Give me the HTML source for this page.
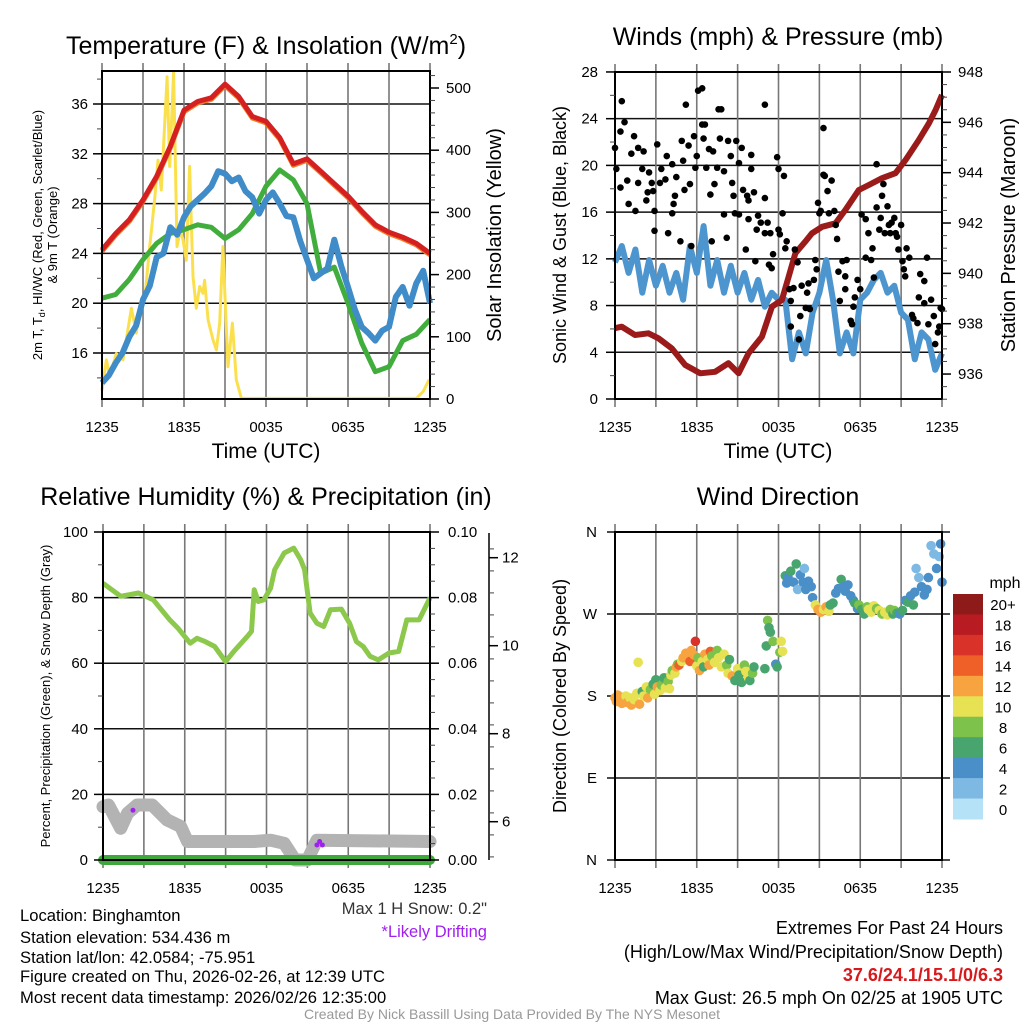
<!DOCTYPE html>
<html><head><meta charset="utf-8"><title>Mesonet Meteogram</title>
<style>
html,body{margin:0;padding:0;background:#fff;}
svg{display:block;font-family:"Liberation Sans",Arial,sans-serif;}
</style></head>
<body>
<svg id="chart" width="1024" height="1024" viewBox="0 0 1024 1024" xmlns="http://www.w3.org/2000/svg">
<rect x="0" y="0" width="1024" height="1024" fill="#fff"/>
<!-- titles -->
<text x="266" y="54" font-size="25" text-anchor="middle">Temperature (F) &amp; Insolation (W/m<tspan font-size="15" dy="-10">2</tspan><tspan dy="10">)</tspan></text>
<text x="778" y="45" font-size="25" text-anchor="middle">Winds (mph) &amp; Pressure (mb)</text>
<text x="266" y="505" font-size="25" text-anchor="middle">Relative Humidity (%) &amp; Precipitation (in)</text>
<text x="778" y="505" font-size="25" text-anchor="middle">Wind Direction</text>
<!-- axis titles -->
<text x="266" y="458" font-size="21" text-anchor="middle">Time (UTC)</text>
<text x="778" y="458" font-size="21" text-anchor="middle">Time (UTC)</text>
<g transform="translate(42,235) rotate(-90)">
<text x="0" y="0" font-size="13" text-anchor="middle">2m T, T<tspan font-size="9" dy="3">d</tspan><tspan dy="-3">, HI/WC (Red, Green, Scarlet/Blue)</tspan></text>
<text x="0" y="15" font-size="13" text-anchor="middle">&amp; 9m T (Orange)</text>
</g>
<text transform="translate(501,235) rotate(-90)" font-size="20" text-anchor="middle">Solar Insolation (Yellow)</text>
<text transform="translate(566,235) rotate(-90)" font-size="18" text-anchor="middle">Sonic Wind &amp; Gust (Blue, Black)</text>
<text transform="translate(1015,235) rotate(-90)" font-size="20" text-anchor="middle">Station Pressure (Maroon)</text>
<text transform="translate(50,696) rotate(-90)" font-size="13" text-anchor="middle">Percent, Precipitation (Green), &amp; Snow Depth (Gray)</text>
<text transform="translate(566,696) rotate(-90)" font-size="18" text-anchor="middle">Direction (Colored By Speed)</text>
<text x="1005" y="588" font-size="16" text-anchor="middle">mph</text>
<!-- footer text -->
<g font-size="16.6">
<text x="20" y="921">Location: Binghamton</text>
<text x="20" y="943">Station elevation: 534.436 m</text>
<text x="20" y="963">Station lat/lon: 42.0584; -75.951</text>
<text x="20" y="982">Figure created on Thu, 2026-02-26, at 12:39 UTC</text>
<text x="20" y="1003">Most recent data timestamp: 2026/02/26 12:35:00</text>
</g>
<text x="487" y="914" font-size="16.5" fill="#333" text-anchor="end">Max 1 H Snow: 0.2"</text>
<text x="487" y="937" font-size="16.5" fill="#a020f0" text-anchor="end">*Likely Drifting</text>
<g font-size="18" text-anchor="end">
<text x="1003" y="934">Extremes For Past 24 Hours</text>
<text x="1003" y="958">(High/Low/Max Wind/Precipitation/Snow Depth)</text>
<text x="1003" y="981" fill="#d7191c" font-weight="bold">37.6/24.1/15.1/0/6.3</text>
<text x="1003" y="1004">Max Gust: 26.5 mph On 02/25 at 1905 UTC</text>
</g>
<text x="512" y="1019" font-size="14" fill="#999" text-anchor="middle">Created By Nick Bassill Using Data Provided By The NYS Mesonet</text>
</svg>
<script>
// ---------- data ----------
const xTickLabels = ["1235","1835","0035","0635","1235"];
const redHours = [0,1,2,3,4,5,6,7,8,9,10,11,12,13,14,15,16,17,18,19,20,21,22,23,24];
const redTemp = [24.3,25.6,26.7,28.3,30.2,32.6,35.5,36.2,36.5,37.6,36.6,35.0,34.6,33.3,31.2,31.6,30.6,29.6,28.6,27.4,26.3,25.7,25.3,24.8,24.0];
const greenTemp = [20.4,20.7,21.9,23.5,24.8,25.6,25.9,26.3,26.1,25.2,25.9,27.2,29.4,30.7,29.9,28.0,22.4,22.9,20.0,16.8,14.5,14.9,17.0,17.5,18.7];
const blueTemp = [13.6,14.2,15.2,16.0,17.3,18.2,20.3,21.4,23.7,24.0,26.1,25.5,26.9,27.8,28.3,28.8,29.4,30.6,30.4,29.8,30.1,29.0,28.5,27.2,28.3,28.9,28.0,27.0,26.9,25.0,23.5,22.0,22.4,22.8,25.1,23.0,21.3,19.5,18.1,17.6,17.0,17.8,18.1,20.5,21.3,19.8,21.6,22.6,20.0];
const solarHours = [0,0.32,0.56,1.05,1.54,2.15,2.51,2.76,3.12,3.49,3.85,4.1,4.34,4.76,4.95,5.24,5.49,5.73,5.93,6.17,6.41,6.66,6.9,7.15,7.39,7.51,7.76,8.12,8.37,8.61,8.85,9.22,9.54,9.83,10.2,23,23.5,23.93];
const solarVals = [14,63,36,73,63,146,106,148,159,245,320,384,336,518,374,526,245,272,256,223,374,197,146,181,170,191,127,95,79,122,245,52,122,31,1,1,12,31];
const tempTicks = [16,20,24,28,32,36];
const solarTicks = [0,100,200,300,400,500];

const windHalfHours = [11.7,13.1,10.8,12.8,9.1,11.9,9.7,11.4,9.1,10.8,8.5,13.1,10.8,14.8,9.7,11.9,9.1,11.4,9.1,10.8,8.5,10.2,7.9,9.1,8.5,8.5,3.4,5.7,3.9,7.4,9.1,11.9,8.5,3.9,5.7,3.9,8.5,9.1,10.2,10.8,9.1,9.7,7.4,6.8,3.4,5.7,5.1,2.5,3.9];
const presHours = [0,0.49,1.47,2.45,3.19,4.17,5.15,6.25,7.35,8.33,9.07,9.8,10.78,11.52,12.25,12.75,13.24,13.97,14.46,15.2,16.18,16.91,17.89,18.63,19.6,20.59,21.32,22.3,23.04,23.53,24];
const presVals = [937.82,937.88,937.55,937.62,937.42,937.02,936.36,936.03,936.09,936.43,936.03,936.82,937.48,938.68,938.94,939.87,940.80,941.26,941.59,941.85,941.99,942.52,943.31,943.51,943.78,943.98,944.50,945.30,945.96,946.49,947.09];
const gustHours = [0,0.1,0.4,0.4,0.5,0.7,0.9,1.0,1.2,1.4,1.5,1.7,1.7,2.0,2.1,2.3,2.4,2.5,2.7,2.8,2.9,2.9,3.1,3.3,3.4,3.7,3.8,3.9,4.2,4.2,4.3,4.4,4.5,4.8,4.9,5.0,5.1,5.2,5.4,5.5,5.6,5.8,5.9,6.0,6.1,6.4,6.4,6.5,6.6,6.7,6.9,7.0,7.1,7.2,7.3,7.5,7.6,7.7,7.8,8.0,8.0,8.2,8.3,8.5,8.6,8.7,8.8,8.9,9.1,9.1,9.3,9.4,9.6,9.7,9.8,9.8,10.0,10.0,10.2,10.3,10.4,10.5,10.7,11.0,11.0,11.0,11.2,11.3,11.4,11.5,11.6,11.9,12.0,12.0,12.1,12.3,12.4,12.5,12.6,12.8,12.9,12.9,13.1,13.2,13.4,13.5,13.6,13.7,14.0,14.1,14.2,14.3,14.6,14.7,14.8,14.9,15.0,15.1,15.3,15.3,15.4,15.6,15.7,15.9,16.1,16.2,16.3,16.4,16.5,16.7,16.9,16.9,17.0,17.3,17.4,17.5,17.6,17.8,18.0,18.1,18.4,18.4,18.6,18.8,18.9,19.0,19.2,19.2,19.4,19.5,19.6,19.7,19.8,20.0,20.1,20.2,20.3,20.5,20.6,20.7,20.8,21.0,21.1,21.2,21.3,21.4,21.6,21.8,21.9,22.2,22.3,22.4,22.7,22.7,22.9,23.0,23.2,23.4,23.5,23.7,23.8,23.9,24.0];
const gustVals = [21.5,19.7,18.1,22.9,25.5,23.7,18.7,16.7,21.0,22.5,16.1,21.5,18.5,19.7,21.2,17.0,17.7,19.4,18.5,17.8,16.1,14.4,21.8,18.5,19.7,18.8,20.8,14.2,20.1,15.9,16.7,17.4,19.0,13.5,22.1,20.4,17.9,25.2,21.7,18.4,13.1,22.5,19.8,20.8,26.4,23.5,26.6,22.3,23.5,19.8,21.4,17.5,13.5,21.2,18.4,19.8,24.8,22.3,24.8,19.5,15.8,13.8,22.1,20.8,18.5,17.4,15.9,22.1,20.2,15.8,21.5,17.9,12.8,17.4,15.4,17.0,20.9,19.7,17.7,11.8,14.5,15.7,15.1,25.2,17.2,14.2,15.1,11.5,14.2,11.2,12.4,20.7,14.5,19.7,14.1,15.9,19.1,12.9,13.5,9.4,8.4,6.2,9.5,12.8,11.7,5.1,7.1,9.7,7.8,9.1,9.9,7.7,10.2,11.9,11.1,16.8,15.9,16.1,23.2,19.2,19.1,17.8,15.9,18.7,16.1,14.9,13.7,10.9,8.4,11.8,9.4,10.5,11.9,6.7,6.4,7.9,8.7,10.2,9.4,15.8,12.1,15.4,14.2,11.9,12.9,10.4,20.1,16.4,14.5,15.5,17.4,18.4,14.2,16.5,14.9,14.2,15.1,15.5,14.2,13.9,12.8,14.9,11.8,11.1,10.5,12.9,12.1,7.2,6.9,6.5,8.7,10.7,10.1,8.2,12.1,6.4,8.5,7.1,4.7,5.7,6.2,7.8,7.7];
const windTicks = [0,4,8,12,16,20,24,28];
const presTicks = [936,938,940,942,944,946,948];

const rhHours = [0,1.3,2.6,3.7,4.9,5.5,6.4,6.9,7.5,8.2,9.0,9.6,10.6,10.9,11.1,11.4,11.8,12.3,12.6,13.3,14.0,14.5,14.8,15.2,15.7,16.2,16.7,17.5,18.1,18.6,19.1,19.6,20.2,21.0,21.7,22.3,23.2,24];
const rhVals = [84.4,80.4,81.4,79.3,73.2,70.7,66.1,67.6,66.6,65.1,60.5,63.6,68.2,69.7,82.4,78.8,79.3,82.9,88.5,93.6,95.1,91.6,88.5,75.3,72.2,71.2,76.3,76.5,72.2,66.6,65.1,62.1,61.0,63.1,63.6,73.2,73.2,79.9];
const snowHours = [0,0.4,1.3,1.8,2.5,3.6,4.7,5.7,6.2,7.6,11.1,12.3,13.3,14.1,15.0,15.7,24];
const snowDepth = [6.34,6.38,5.85,6.19,6.38,6.38,6.04,5.89,5.55,5.55,5.55,5.58,5.51,5.13,5.13,5.58,5.55];
const driftHours = [2.2,15.7,15.9,16.1];
const driftDepth = [6.26,5.47,5.55,5.47];
const precipHours = [0,24];
const precipVals = [0,0];
const rhTicks = [0,20,40,60,80,100];
const precipTicks = ["0.00","0.02","0.04","0.06","0.08","0.10"];
const snowTicks = [6,8,10,12];

const dirHours = [0,0.1,0.2,0.3,0.4,0.5,0.6,0.7,0.8,0.9,1.1,1.2,1.4,1.6,1.8,1.7,2.0,2.1,2.3,2.4,2.6,2.8,2.9,3.0,3.1,3.3,3.4,3.6,3.7,3.9,4.0,4.1,4.2,4.4,4.5,4.6,4.7,4.9,5.0,5.2,5.4,5.5,5.6,5.8,5.9,6.0,6.1,6.2,6.4,6.5,6.6,6.8,6.9,7.0,7.1,7.3,7.5,7.6,7.8,8.0,8.2,8.3,8.4,8.6,8.8,9.0,9.1,9.3,9.5,9.6,9.8,9.9,10.1,10.2,11.0,11.1,11.2,11.3,11.4,11.6,11.8,11.9,12.1,12.2,12.3,12.5,12.6,12.7,12.9,13.1,13.3,13.4,13.6,13.8,13.9,14.0,14.2,14.4,14.5,14.7,14.9,15.1,15.3,15.5,15.7,15.8,16.0,16.2,16.4,16.6,16.8,16.9,17.1,17.3,17.5,17.6,17.8,17.9,18.1,18.3,18.5,18.6,18.8,19.0,19.2,19.4,19.6,19.8,20.0,20.2,20.4,20.5,20.7,20.9,21.1,21.3,21.5,21.7,21.9,22.0,22.1,22.3,22.5,22.7,22.9,23.0,23.2,23.4,23.6,23.8,23.9,24.0];
const dirDeg = [178,174,181,176,179,172,177,175,180,173,178,170,176,183,171,217,185,180,190,178,187,193,182,198,190,186,192,200,189,196,188,203,208,205,212,215,214,218,222,227,224,218,230,225,240,213,222,208,218,212,226,220,214,229,224,217,230,222,212,226,214,205,220,202,197,210,203,195,214,207,200,197,205,212,210,235,263,255,250,240,215,212,228,240,229,312,304,310,317,305,325,297,313,305,320,297,306,300,288,280,275,272,275,278,273,280,282,293,298,308,300,295,302,290,285,282,276,280,275,270,278,275,272,279,276,274,270,272,269,275,270,274,271,270,274,285,283,290,280,294,320,310,300,291,297,310,345,336,320,333,347,305];
const dirSpeed = [12,13,12,13,12,13,12,13,11,12,10,12,11,10,13,10,7,11,10,12,9,7,10,6,12,10,8,7,10,8,11,10,8,10,12,8,14,10,12,12,12,15,13,12,16,10,8,13,10,6,12,10,12,15,9,10,8,11,10,10,8,10,7,12,7,10,7,7,8,10,10,6,8,7,6,7,8,6,6,8,5,6,9,10,10,6,4,5,6,4,6,3,5,5,3,4,4,5,4,10,12,12,10,13,10,7,6,4,4,6,4,4,4,5,4,7,4,8,7,6,8,10,11,10,8,10,8,11,10,8,7,8,7,5,6,5,6,4,6,4,2,3,5,4,4,4,2,2,4,3,4,4];
const dirTickLabels = ["N","E","S","W","N"];
const speedLabels = ["20+","18","16","14","12","10","8","6","4","2","0"];
const speedColors = ["#8f1a1a","#b81c22","#d93228","#ef6029","#f7a440","#e7e154","#7dc24b","#48a56d","#4a8fc7","#7db9e3","#b6e2f8"];

// ---------- helpers ----------
const NS = "http://www.w3.org/2000/svg";
const svg = document.getElementById("chart");
function mk(tag, attrs, parent){ const e=document.createElementNS(NS,tag); for(const k in attrs) e.setAttribute(k,attrs[k]); (parent||svg).appendChild(e); return e; }
function txt(s, attrs, parent){ const e=mk("text",attrs,parent); e.textContent=s; return e; }
function pathFrom(xs, ys){ let d=""; for(let i=0;i<xs.length;i++) d+=(i?"L":"M")+xs[i].toFixed(1)+","+ys[i].toFixed(1); return d; }

function timeAxis(x0,x1,y0,y1,name){
  const g=mk("g",{});
  
  
  for(let h=0;h<=24;h+=3){
    const x=x0+(x1-x0)*h/24;
    const l=mk("line",{x1:x,x2:x,y1:y0-8,y2:y1+8,stroke:"#777","stroke-width":1.6},g);
    
    
  }
  for(let i=0;i<5;i++){
    const t=txt(xTickLabels[i],{x:x0+(x1-x0)*i/4,y:y1+33,"font-size":15,"text-anchor":"middle"},g);
    
    
  }
  return g;
}
function frame(x0,x1,y0,y1,name){
  const r=mk("rect",{x:x0,y:y0,width:x1-x0,height:y1-y0,fill:"none",stroke:"#000","stroke-width":2});
  
  
}
function hline(x0,x1,y,name){
  const l=mk("line",{x1:x0,x2:x1,y1:y,y2:y,stroke:"#111","stroke-width":1.5});
  
  
}
function yTicks(xEdge,side,vals,labels,yf,minorVals,name,lx){
  const g=mk("g",{});
  
  
  const dir = side==="left"?-1:1;
  minorVals.forEach(v=>{ const y=yf(v); mk("line",{x1:xEdge,x2:xEdge+dir*5,y1:y,y2:y,stroke:"#444","stroke-width":1},g); });
  vals.forEach((v,i)=>{
    const y=yf(v);
    mk("line",{x1:xEdge,x2:xEdge+dir*9,y1:y,y2:y,stroke:"#000","stroke-width":1.5},g);
    const t=txt(labels[i],{x:lx,y:y+5,"font-size":15,"text-anchor":side==="left"?"end":"start"},g);
    
    
  });
}
function range(a,b,s){ const r=[]; for(let v=a;v<=b+1e-9;v+=s) r.push(+v.toFixed(4)); return r; }

// ---------- Panel 1: temperature ----------
(function(){
  const x0=102,x1=430,y0=71,y1=399;
  const xs=h=>x0+(x1-x0)*h/24;
  const yT=t=>353-(t-16)*12.45;
  const yS=s=>399-s*0.622;
  tempTicks.forEach(t=>hline(x0,x1,yT(t),'temp-gridline'));
  timeAxis(x0,x1,y0,y1,'p1');
  const cg=mk("g",{});
  
  
  const sol=mk("path",{d:pathFrom(solarHours.map(xs),solarVals.map(yS)),fill:"none",stroke:"#fbe04e","stroke-width":3,"stroke-linejoin":"round"},cg);
  
  
  const gr=mk("path",{d:pathFrom(redHours.map(xs),greenTemp.map(yT)),fill:"none",stroke:"#41ad3c","stroke-width":5,"stroke-linejoin":"round"},cg);
  
  
  const bh=blueTemp.map((v,i)=>i/2);
  const bl=mk("path",{d:pathFrom(bh.map(xs),blueTemp.map(yT)),fill:"none",stroke:"#3f8cc9","stroke-width":6,"stroke-linejoin":"round"},cg);
  
  
  const or=mk("path",{d:pathFrom(redHours.map(xs),redTemp.map(v=>yT(v)+1.5)),fill:"none",stroke:"#f07a2a","stroke-width":5,"stroke-linejoin":"round"},cg);
  
  
  const rd=mk("path",{d:pathFrom(redHours.map(xs),redTemp.map(yT)),fill:"none",stroke:"#d42020","stroke-width":5,"stroke-linejoin":"round"},cg);
  
  
  frame(x0,x1,y0,y1,'p1');
  yTicks(x0,"left",tempTicks,tempTicks.map(String),yT,range(14,38,2),'temp-y-axis',88);
  yTicks(x1,"right",solarTicks,solarTicks.map(String),yS,range(0,520,20),'solar-y-axis',446);
})();

// ---------- Panel 2: winds ----------
(function(){
  const x0=615,x1=942,y0=72,y1=399;
  const xs=h=>x0+(x1-x0)*h/24;
  const yW=w=>399-w*11.68;
  const yP=p=>72+(948-p)*25.17;
  windTicks.forEach(t=>hline(x0,x1,yW(t),'wind-gridline'));
  timeAxis(x0,x1,y0,y1,'p2');
  const wh=windHalfHours.map((v,i)=>i/2);
  const wl=mk("path",{d:pathFrom(wh.map(xs),windHalfHours.map(yW)),fill:"none",stroke:"#4d95cf","stroke-width":6,"stroke-linejoin":"round"});
  
  
  const pl=mk("path",{d:pathFrom(presHours.map(xs),presVals.map(yP)),fill:"none",stroke:"#9b1b1b","stroke-width":6,"stroke-linejoin":"round"});
  
  
  const gg=mk("g",{});
  
  
  gustHours.forEach((h,i)=>{
    const c=mk("circle",{cx:xs(h),cy:yW(gustVals[i]),r:3.3,fill:"#000"},gg);
    
    
  });
  frame(x0,x1,y0,y1,'p2');
  yTicks(x0,"left",windTicks,windTicks.map(String),yW,range(0,28,2),'wind-y-axis',598);
  yTicks(x1,"right",presTicks,presTicks.map(String),yP,range(935,948,0.5),'pressure-y-axis',958);
})();

// ---------- Panel 3: humidity ----------
(function(){
  const x0=103,x1=430,y0=532,y1=860;
  const xs=h=>x0+(x1-x0)*h/24;
  const yR=r=>860-r*3.28;
  const yD=d=>821.7-(d-6)*44;
  rhTicks.forEach(t=>hline(x0,x1,yR(t),'rh-gridline'));
  timeAxis(x0,x1,y0,y1,'p3');
  const sn=mk("path",{d:pathFrom(snowHours.map(xs),snowDepth.map(yD)),fill:"none",stroke:"#b3b3b3","stroke-width":13,"stroke-linejoin":"round","stroke-linecap":"round"});
  
  
  driftHours.forEach((h,i)=>{
    const c=mk("circle",{cx:xs(h),cy:yD(driftDepth[i]),r:2.5,fill:"#a020f0"});
    
    
  });
  const pr=mk("path",{d:pathFrom(precipHours.map(xs),precipVals.map(v=>yR(v*1000))),fill:"none",stroke:"#3fa83a","stroke-width":10,"stroke-linecap":"round"});
  
  
  const rl=mk("path",{d:pathFrom(rhHours.map(xs),rhVals.map(yR)),fill:"none",stroke:"#8cc84b","stroke-width":5,"stroke-linejoin":"round"});
  
  
  frame(x0,x1,y0,y1,'p3');
  yTicks(x0,"left",rhTicks,rhTicks.map(String),yR,range(0,100,10),'rh-y-axis',88);
  yTicks(x1,"right",rhTicks,precipTicks,yR,range(0,100,5),'precip-y-axis',448);
  const ax=mk("line",{x1:489,x2:489,y1:533,y2:860,stroke:"#000","stroke-width":1.5});
  
  
  yTicks(489,"right",snowTicks,snowTicks.map(String),yD,range(5.2,12.5,0.5),'snow-y-axis',502);
})();

// ---------- Panel 4: wind direction ----------
(function(){
  const x0=615,x1=942,y0=532,y1=860;
  const xs=h=>x0+(x1-x0)*h/24;
  const yDg=d=>860-d*0.911;
  for(let i=0;i<5;i++) hline(x0-8,x1+8,yDg(i*90),'direction-gridline');
  timeAxis(x0,x1,y0,y1,'p4');
  dirTickLabels.forEach((l,i)=>{
    const t=txt(l,{x:597,y:yDg(i*90)+5,"font-size":15,"text-anchor":"end"});
    
    
  });
  const dg=mk("g",{});
  
  
  dirHours.forEach((h,i)=>{
    const s=dirSpeed[i];
    const bin=Math.min(10,Math.floor(s/2));
    const c=mk("circle",{cx:xs(h),cy:yDg(dirDeg[i]),r:4.8,fill:speedColors[10-bin]},dg);
    
    
  });
  frame(x0,x1,y0,y1,'p4');
  const cb=mk("g",{});
  
  
  const top=594, h=225/11;
  speedColors.forEach((c,i)=>{
    const r=mk("rect",{x:953,y:top+i*h,width:30,height:h+0.5,fill:c},cb);
    
    
    const t=txt(speedLabels[i],{x:1003,y:top+i*h+h/2+6,"font-size":15,"text-anchor":"middle"},cb);
    
    
  });
})();
</script>
</body></html>
